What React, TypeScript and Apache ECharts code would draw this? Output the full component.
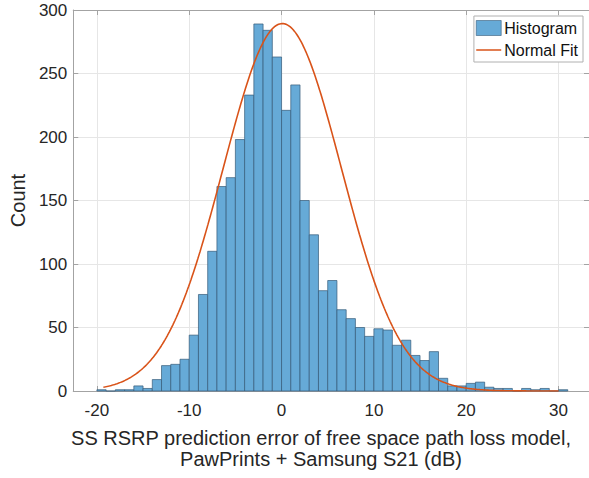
import React, { useEffect, useRef } from 'react';
import * as echarts from 'echarts';

// Histogram bins (left edges, width 1 dB) and counts
const binStarts = [
  -20, -19, -18, -17, -16, -15, -14, -13, -12, -11,
  -10, -9, -8, -7, -6, -5, -4, -3, -2, -1,
  0, 1, 2, 3, 4, 5, 6, 7, 8, 9,
  10, 11, 12, 13, 14, 15, 16, 17, 18, 19,
  20, 21, 22, 23, 24, 25, 26, 27, 28, 29, 30,
];
const binCounts = [
  1, 0, 1, 1, 4, 2, 9, 20, 21, 25,
  44, 76, 110, 161, 168, 198, 233, 289, 284, 263,
  221, 241, 150, 123, 79, 87, 64, 57, 50, 43,
  49, 48, 36, 40, 28, 24, 31, 10, 4, 4,
  6, 7, 3, 2, 2, 0, 2, 1, 2, 0, 1,
];
const binWidth = 1;

// Normal fit parameters (mean, std, peak height, plotted range)
const fitMean = 0.08;
const fitSigma = 6.4;
const fitPeak = 289.3;
const fitRange = [-19.3, 30.0];

const xTicks = [-20, -10, 0, 10, 20, 30];
const xRange = [-22.56, 33.3];
const yRange = [0, 300];
const yStep = 50;

const seriesNames = ['Histogram', 'Normal Fit'];
const xLabelText = 'SS RSRP prediction error of free space path loss model,\nPawPrints + Samsung S21 (dB)';
const yLabelText = 'Count';

const FONT = "'Liberation Sans', Arial, Helvetica, sans-serif";
const TXT = '#262626';
const SPINE = '#a3a3a3';
const GRID = '#e6e6e6';
const BAR = '#66aad7';
const EDGE = '#355a78';
const FIT = '#d95319';

export default function App() {
  const ref = useRef<HTMLDivElement>(null);

  useEffect(() => {
    if (!ref.current) return;
    const chart = echarts.init(ref.current, undefined, { renderer: 'svg' });

    const histData = binStarts.map((s, i) => [s, s + binWidth, binCounts[i]]);
    const fitData: number[][] = [];
    const n = 400;
    for (let i = 0; i <= n; i++) {
      const x = fitRange[0] + ((fitRange[1] - fitRange[0]) * i) / n;
      const z = (x - fitMean) / fitSigma;
      fitData.push([x, fitPeak * Math.exp(-0.5 * z * z)]);
    }

    const tickLabelStyle = { fontSize: 17, color: TXT, fontFamily: FONT };

    chart.setOption({
      animation: false,
      backgroundColor: '#ffffff',
      grid: { left: 69, right: 0, top: 10, bottom: 87, containLabel: false },
      legend: {
        data: [
          { name: seriesNames[0], icon: 'rect', itemStyle: { color: BAR, borderColor: EDGE, borderWidth: 0.6 } },
          { name: seriesNames[1], icon: 'path://M0,0H50V3H0Z', itemStyle: { color: FIT } },
        ],
        orient: 'vertical',
        right: 6,
        top: 16,
        backgroundColor: '#ffffff',
        borderColor: '#b0b0b0',
        borderWidth: 1,
        borderRadius: 0,
        padding: [3, 5, 3, 2],
        itemGap: 4,
        itemWidth: 25,
        itemHeight: 15,
        textStyle: { fontSize: 16, color: '#111111', fontFamily: FONT, lineHeight: 18, padding: [0, 0, 0, -2] },
      },
      xAxis: [
        {
          type: 'value',
          min: xRange[0],
          max: xRange[1],
          axisLine: { show: true, onZero: false, lineStyle: { color: SPINE, width: 1 } },
          axisTick: { show: true, inside: true, length: 5, customValues: xTicks, lineStyle: { color: SPINE } },
          axisLabel: { ...tickLabelStyle, margin: 11, customValues: xTicks },
          splitLine: { show: true, lineStyle: { color: GRID, width: 1 } },
        },
        {
          type: 'value',
          position: 'top',
          min: xRange[0],
          max: xRange[1],
          axisLine: { show: true, onZero: false, lineStyle: { color: SPINE, width: 1 } },
          axisTick: { show: true, inside: true, length: 5, customValues: xTicks, lineStyle: { color: SPINE } },
          axisLabel: { show: false },
          splitLine: { show: false },
        },
      ],
      yAxis: [
        {
          type: 'value',
          min: yRange[0],
          max: yRange[1],
          interval: yStep,
          name: yLabelText,
          nameLocation: 'middle',
          nameGap: 42,
          nameTextStyle: { fontSize: 20, color: TXT, fontFamily: FONT },
          axisLine: { show: true, onZero: false, lineStyle: { color: SPINE, width: 1 } },
          axisTick: { show: true, inside: true, length: 5, lineStyle: { color: SPINE } },
          axisLabel: { ...tickLabelStyle, margin: 6 },
          splitLine: { show: true, lineStyle: { color: GRID, width: 1 } },
        },
        {
          type: 'value',
          position: 'right',
          min: yRange[0],
          max: yRange[1],
          interval: yStep,
          axisLine: { show: true, onZero: false, lineStyle: { color: SPINE, width: 1 } },
          axisTick: { show: true, inside: true, length: 5, lineStyle: { color: SPINE } },
          axisLabel: { show: false },
          splitLine: { show: false },
        },
      ],
      series: [
        {
          name: seriesNames[0],
          type: 'custom',
          xAxisIndex: 0,
          yAxisIndex: 0,
          itemStyle: { color: BAR, borderColor: EDGE, borderWidth: 0.7 },
          encode: { x: [0, 1], y: 2 },
          data: histData,
          renderItem: (params: any, api: any) => {
            const p0 = api.coord([api.value(0), api.value(2)]);
            const p1 = api.coord([api.value(1), 0]);
            return {
              type: 'rect',
              shape: { x: p0[0], y: p0[1], width: p1[0] - p0[0], height: p1[1] - p0[1] },
              style: { fill: BAR, stroke: EDGE, lineWidth: 0.7 },
            };
          },
          z: 2,
        },
        {
          name: seriesNames[1],
          type: 'line',
          xAxisIndex: 0,
          yAxisIndex: 0,
          data: fitData,
          symbol: 'none',
          showSymbol: false,
          lineStyle: { color: FIT, width: 1.6 },
          itemStyle: { color: FIT },
          z: 3,
        },
      ],
      graphic: [
        {
          type: 'text',
          x: 321,
          y: 427,
          style: {
            text: xLabelText,
            fontSize: 20,
            fontFamily: FONT,
            fill: TXT,
            align: 'center',
            verticalAlign: 'top',
            lineHeight: 21,
          },
        },
      ],
    });

    return () => chart.dispose();
  }, []);

  return (
    <div
      ref={ref}
      style={{ position: 'absolute', left: 0, top: 0, width: 589, height: 478 }}
    />
  );
}
